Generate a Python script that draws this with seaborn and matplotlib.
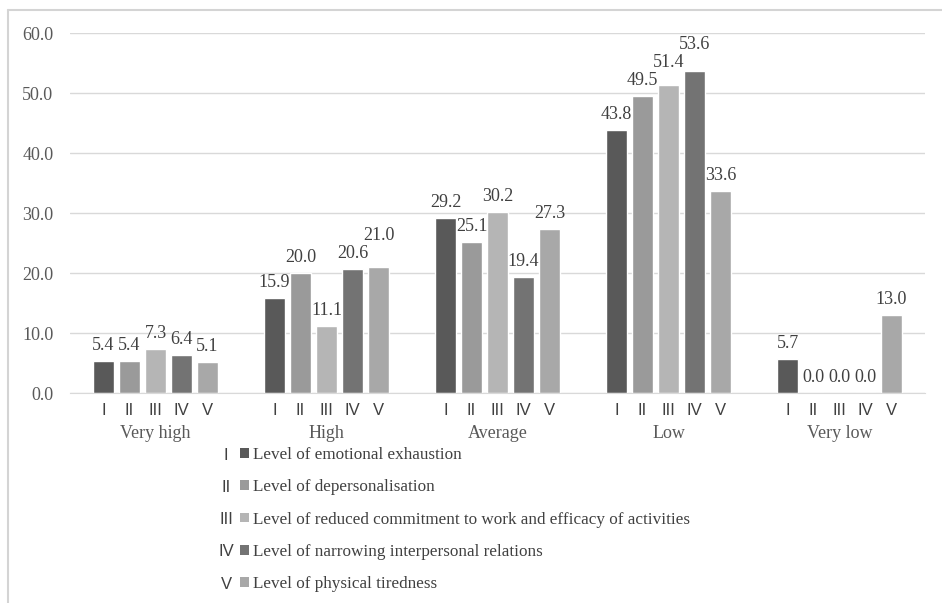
import numpy as np
import pandas as pd
import seaborn as sns
import matplotlib.pyplot as plt
from matplotlib.patches import Patch
from matplotlib.lines import Line2D

# data
groups = ['Very high', 'High', 'Average', 'Low', 'Very low']
series = ['I', 'II', 'III', 'IV', 'V']
series_names = ['Level of emotional exhaustion',
                'Level of depersonalisation',
                'Level of reduced commitment to work and efficacy of activities',
                'Level of narrowing interpersonal relations',
                'Level of physical tiredness']
val_I = [5.4, 15.9, 29.2, 43.8, 5.7]
val_II = [5.4, 20.0, 25.1, 49.5, 0.0]
val_III = [7.3, 11.1, 30.2, 51.4, 0.0]
val_IV = [6.4, 20.6, 19.4, 53.6, 0.0]
val_V = [5.1, 21.0, 27.3, 33.6, 13.0]
y_ticks = [0, 10, 20, 30, 40, 50, 60]

colors = ['#595959', '#9a9a9a', '#b5b5b5', '#737373', '#a8a8a8']

df = pd.DataFrame({'group': groups * 5,
                   'series': np.repeat(series, 5),
                   'value': val_I + val_II + val_III + val_IV + val_V})

sns.set_style('white')
plt.rcParams['font.family'] = ['Liberation Serif', 'DejaVu Serif']

fig = plt.figure(figsize=(9.42, 6.03), dpi=100)
ax = fig.add_axes([70/942, 1-393/603, 855/942, 360/603])

sns.barplot(data=df, x='group', y='value', hue='series', order=groups,
            hue_order=series, palette=colors, width=0.76, gap=0.19,
            saturation=1, legend=False, ax=ax)

ax.set_ylim(0, 60)
ax.set_xlim(-0.5, 4.5)
ax.set_yticks(y_ticks)
ax.set_yticklabels(['%.1f' % t for t in y_ticks], color='#595959', fontsize=13)
ax.yaxis.grid(True, color='#d9d9d9', lw=1)
ax.set_axisbelow(True)
for s in ['top', 'right', 'left']:
    ax.spines[s].set_visible(False)
ax.spines['bottom'].set_color('#d9d9d9')
ax.tick_params(axis='y', length=0, pad=12)
ax.set_xlabel('')
ax.set_ylabel('')

# value labels
label_sets = []
for c in ax.containers:
    label_sets.append(ax.bar_label(c, fmt='%.1f', fontsize=13, color='#404040', padding=5))

# roman numeral ticks under each bar, group names as minor ticks
centers = []
labs = []
for i, c in enumerate(ax.containers):
    for p in c.patches:
        centers.append(p.get_x() + p.get_width() / 2)
        labs.append(series[i])
ax.xaxis.remove_overlapping_locs = False
ax.set_xticks(centers)
ax.set_xticklabels(labs, family='Liberation Sans', fontsize=12, color='#404040')
ax.tick_params(axis='x', which='major', length=0, pad=7)
ax.set_xticks(range(len(groups)), minor=True)
ax.set_xticklabels(groups, minor=True, fontsize=13, color='#595959')
ax.tick_params(axis='x', which='minor', length=0, pad=23)

# legend
handles = [Patch(facecolor=col, edgecolor='none') for col in colors]
leg = fig.legend(handles, series_names, loc='upper left',
                 bbox_to_anchor=(235/942, 1-442/603), frameon=False,
                 fontsize=12.3, labelcolor='#404040', handlelength=0.5,
                 handleheight=0.5, handletextpad=0.25, labelspacing=0.95,
                 borderaxespad=0, borderpad=0.3)
fig.canvas.draw()

# lift value labels that would collide with the neighbour on the left
for j in range(len(groups)):
    prev = None
    for i in range(len(series)):
        t = label_sets[i][j]
        bb = t.get_window_extent()
        if prev is not None and bb.x0 < prev.x1 and bb.y0 < prev.y1 and bb.y1 > prev.y0:
            dy = prev.y1 - bb.y0 + 1
            x0, y0 = t.xyann
            t.xyann = (x0, y0 + dy * 72 / fig.dpi)
            fig.canvas.draw()
            bb = t.get_window_extent()
        prev = bb

inv = fig.transFigure.inverted()
for i, t in enumerate(leg.get_texts()):
    bb = t.get_window_extent()
    y = (bb.y0 + bb.y1) / 2
    xf, yf = inv.transform((226, y))
    fig.text(xf, yf, series[i], ha='center', va='center',
             family='Liberation Sans', fontsize=12, color='#404040')

# thin frame at top and left
fig.add_artist(Line2D([8/942, 1], [1-10/603, 1-10/603], color='#d4d4d4', lw=1.5))
fig.add_artist(Line2D([8/942, 8/942], [0, 1-10/603], color='#d4d4d4', lw=1.5))

fig.savefig('out.png', dpi=100)
